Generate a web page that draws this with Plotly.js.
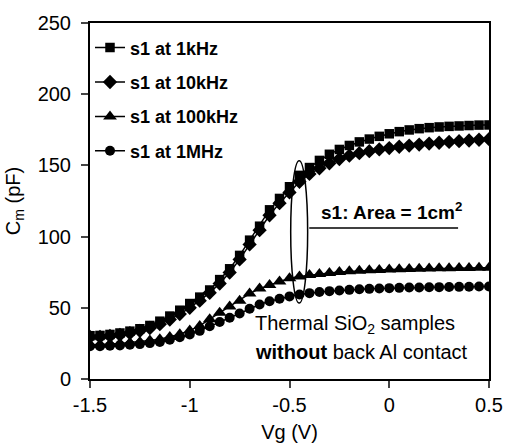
<!DOCTYPE html>
<html>
<head>
<meta charset="utf-8">
<script src="https://cdn.plot.ly/plotly-3.0.1.min.js"></script>
<style>html,body{margin:0;padding:0;background:#fff;}#chart{width:506px;height:443px;}</style>
</head>
<body>
<div id="chart"></div>
<script>
const vg = [-1.5,-1.45,-1.4,-1.35,-1.3,-1.25,-1.2,-1.15,-1.1,-1.05,-1.0,-0.95,-0.9,-0.85,-0.8,-0.75,-0.7,-0.65,-0.6,-0.55,-0.5,-0.45,-0.4,-0.35,-0.3,-0.25,-0.2,-0.15,-0.1,-0.05,0,0.05,0.1,0.15,0.2,0.25,0.3,0.35,0.4,0.45,0.5];
const c1kHz = [30.4,30.6,31.3,32.3,33.6,35.3,37.6,40.6,44.2,48.3,53,57.5,62.5,69.8,77.4,86.8,97.5,107.3,118.8,126.8,135,143,148.5,153.5,157.8,161.2,164,166.5,168.5,170.4,172.2,173.7,174.9,175.8,176.5,177,177.4,177.7,178,178.3,178.4];
const c10kHz = [29.5,29.6,30.2,31,32.2,33.8,35.8,38.5,41.8,45.6,50,55,60.5,67,74.8,84,94.5,104.5,115,123.5,131,138.5,144,148,151.5,154.5,156.8,158.6,160,161.2,162.2,163.1,163.9,164.6,165.3,165.9,166.5,167,167.5,168,168.4];
const c100kHz = [24,24,24.5,25,25.5,26,27,28,29.5,31.5,34,37.3,42,46.5,51,55,60,63.5,66,68.5,70.8,72,73,73.8,74.5,75.1,75.6,76,76.3,76.6,76.9,77.1,77.3,77.5,77.6,77.7,77.8,77.9,78,78.1,78.2];
const c1MHz = [23,23,23.3,23.6,24,24.5,25.2,26,27.6,29.3,31.3,33.8,37,40,43,46,49.3,52.3,54.6,56.4,58,59.3,60.3,61.1,61.7,62.2,62.6,63,63.3,63.6,63.8,64,64.2,64.3,64.4,64.5,64.6,64.7,64.8,64.9,65];
const seriesNames = ['s1 at 1kHz','s1 at 10kHz','s1 at 100kHz','s1 at 1MHz'];
const seriesSymbols = ['square','diamond','triangle-up','circle'];
const seriesSizes = [9.5,11,12,10];
const seriesData = [c1kHz,c10kHz,c100kHz,c1MHz];
const xTicks = [-1.5,-1,-0.5,0,0.5];
const xTickText = ['-1.5','-1','-0.5','0','0.5'];
const yTicks = [0,50,100,150,200,250];

const font = 'Arial, "Liberation Sans", sans-serif';
const traces = seriesData.map((d,i)=>({
  x: vg, y: d, type:'scatter', mode:'lines+markers', name: seriesNames[i],
  legendgroup: 'g'+i,
  line:{color:'#000',width:1.5},
  marker:{symbol:seriesSymbols[i],size:seriesSizes[i],color:'#000'}
}));

const layout = {
  width:506, height:443,
  margin:{l:89.5,r:17,t:23,b:64},
  paper_bgcolor:'#fff', plot_bgcolor:'#fff',
  font:{family:font,color:'#000',size:20},
  showlegend:true,
  legend:{x:0.0,y:0.982,xanchor:'left',yanchor:'top',bgcolor:'rgba(0,0,0,0)',
    font:{family:font,size:18,weight:'bold',color:'#000'},tracegroupgap:8,itemwidth:30},
  xaxis:{range:[-1.5,0.5],tickvals:xTicks,ticktext:xTickText,ticks:'outside',ticklen:7,tickwidth:2,
    showline:true,linewidth:2,linecolor:'#000',mirror:true,showgrid:false,zeroline:false,
    tickfont:{size:20,family:font},
    title:{text:'Vg (V)',font:{size:20,family:font},standoff:16}},
  yaxis:{range:[0,250],tickvals:yTicks,ticks:'outside',ticklen:7,tickwidth:2,ticklabelstandoff:6,
    showline:true,linewidth:2,linecolor:'#000',mirror:true,showgrid:false,zeroline:false,
    tickfont:{size:20,family:font},
    title:{text:'C<sub>m</sub> (pF)',font:{size:20,family:font},standoff:12}},
  shapes:[
    {type:'circle',xref:'x',yref:'y',x0:-0.494,x1:-0.409,y0:53.3,y1:153.2,line:{color:'#000',width:1.5}},
    {type:'line',xref:'x',yref:'y',x0:-0.401,x1:0.345,y0:106,y1:106,line:{color:'#000',width:1.5}}
  ],
  annotations:[
    {xref:'x',yref:'y',x:-0.35,y:118,xanchor:'left',yanchor:'middle',showarrow:false,
      text:'<b>s1: Area = 1cm<sup>2</sup></b>',font:{size:19,family:font}},
    {xref:'x',yref:'y',x:-0.685,y:38,xanchor:'left',yanchor:'middle',showarrow:false,align:'left',
      text:'Thermal SiO<sub>2</sub> samples',font:{size:20,family:font}},
    {xref:'x',yref:'y',x:-0.685,y:19,xanchor:'left',yanchor:'middle',showarrow:false,align:'left',
      text:'<b>without</b> back Al contact',font:{size:20,family:font}}
  ]
};
Plotly.newPlot('chart',traces,layout,{displayModeBar:false,staticPlot:true});
</script>
</body>
</html>
